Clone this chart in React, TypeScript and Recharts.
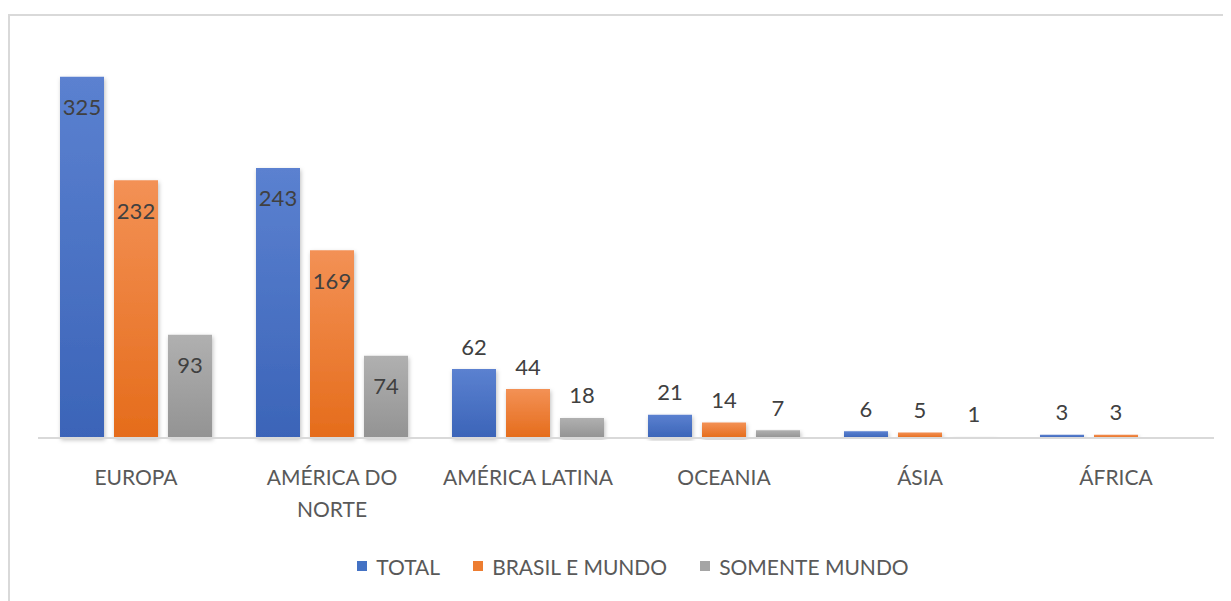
import React from "react";
import { BarChart, Bar, XAxis, YAxis, Legend, LabelList } from "recharts";

const categories = ["EUROPA", "AMÉRICA DO NORTE", "AMÉRICA LATINA", "OCEANIA", "ÁSIA", "ÁFRICA"];
const totalValues = [325, 243, 62, 21, 6, 3];
const brasilMundoValues = [232, 169, 44, 14, 5, 3];
const somenteMundoValues: (number | null)[] = [93, 74, 18, 7, 1, null];
const tickLines: Record<string, string[]> = {
  "AMÉRICA DO NORTE": ["AMÉRICA DO", "NORTE"],
};

const data = categories.map((c, i) => ({
  name: c,
  total: totalValues[i],
  brasil: brasilMundoValues[i],
  somente: somenteMundoValues[i],
}));

const FONT = "Lato, 'Open Sans', sans-serif";

const Tick = (props: any) => {
  const { x, y, payload } = props;
  const lines = tickLines[payload.value] || [payload.value];
  return (
    <g>
      {lines.map((l: string, i: number) => (
        <text
          key={i}
          x={x}
          y={y + 30 + i * 32}
          textAnchor="middle"
          dominantBaseline="central"
          fill="#595959"
          fontSize={21}
          fontFamily={FONT}
        >
          {l}
        </text>
      ))}
    </g>
  );
};

const ValueLabel = (props: any) => {
  const { x, y, width, value } = props;
  if (value === null || value === undefined) return null;
  const inside = value >= 70;
  return (
    <text
      x={x + width / 2}
      y={inside ? y + 30 : y - 23}
      textAnchor="middle"
      dominantBaseline="central"
      fill="#404040"
      fontSize={22}
      fontFamily={FONT}
    >
      {value}
    </text>
  );
};

const legendItems = [
  { label: "TOTAL", color: "#4472c4" },
  { label: "BRASIL E MUNDO", color: "#ed7d31" },
  { label: "SOMENTE MUNDO", color: "#a5a5a5" },
];

const LegendContent = () => (
  <div style={{ display: "flex", justifyContent: "center", alignItems: "center", fontFamily: FONT, fontSize: 21, color: "#595959", height: 30, paddingLeft: 14 }}>
    {legendItems.map((it, i) => (
      <div key={i} style={{ display: "flex", alignItems: "center", marginLeft: i === 0 ? 0 : 33 }}>
        <div style={{ width: 10, height: 10, background: it.color, marginRight: 9 }} />
        <span>{it.label}</span>
      </div>
    ))}
  </div>
);

export default function App() {
  return (
    <div
      style={{
        marginTop: 6,
        width: 1221,
        height: 585,
        borderTop: "2px solid #d9d9d9",
        borderLeft: "2px solid #d9d9d9",
        background: "#fff",
        overflow: "hidden",
      }}
    >
      <BarChart
        width={1215}
        height={585}
        data={data}
        margin={{ top: 33, right: 11, left: 28, bottom: 20 }}
        barCategoryGap={22}
        barGap={10}
      >
        <defs>
          <linearGradient id="gBlue" x1="0" y1="0" x2="0" y2="1">
            <stop offset="0%" stopColor="#5b81d0" />
            <stop offset="100%" stopColor="#3b64b8" />
          </linearGradient>
          <linearGradient id="gOrange" x1="0" y1="0" x2="0" y2="1">
            <stop offset="0%" stopColor="#f39155" />
            <stop offset="100%" stopColor="#e56c1b" />
          </linearGradient>
          <linearGradient id="gGray" x1="0" y1="0" x2="0" y2="1">
            <stop offset="0%" stopColor="#b0b0b0" />
            <stop offset="100%" stopColor="#939393" />
          </linearGradient>
          <filter id="shadow" x="-20%" y="-5%" width="140%" height="115%">
            <feDropShadow dx="1" dy="2" stdDeviation="2" floodColor="#000" floodOpacity="0.25" />
          </filter>
        </defs>
        <XAxis
          dataKey="name"
          tick={<Tick />}
          tickLine={false}
          axisLine={{ stroke: "#d9d9d9", strokeWidth: 2 }}
          height={113}
          interval={0}
        />
        <YAxis hide domain={[0, 350]} />
        <Legend verticalAlign="bottom" content={<LegendContent />} />
        <Bar dataKey="total" name="TOTAL" fill="url(#gBlue)" filter="url(#shadow)" isAnimationActive={false}>
          <LabelList dataKey="total" content={<ValueLabel />} />
        </Bar>
        <Bar dataKey="brasil" name="BRASIL E MUNDO" fill="url(#gOrange)" filter="url(#shadow)" isAnimationActive={false}>
          <LabelList dataKey="brasil" content={<ValueLabel />} />
        </Bar>
        <Bar dataKey="somente" name="SOMENTE MUNDO" fill="url(#gGray)" filter="url(#shadow)" isAnimationActive={false}>
          <LabelList dataKey="somente" content={<ValueLabel />} />
        </Bar>
      </BarChart>
    </div>
  );
}
